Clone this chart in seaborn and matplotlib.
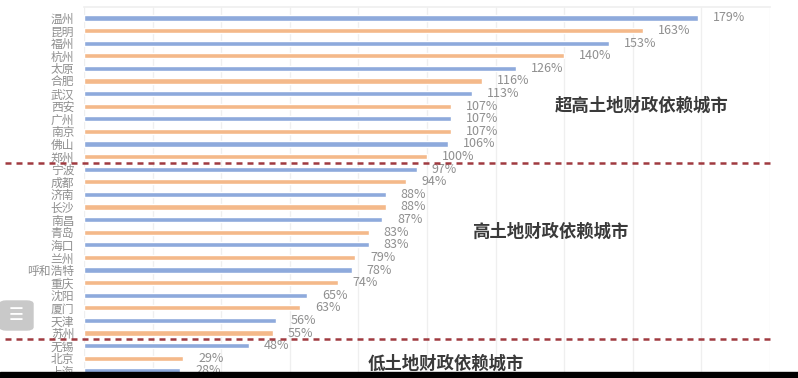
import seaborn as sns
import matplotlib.pyplot as plt
from matplotlib.patches import FancyBboxPatch, Rectangle

CITIES = ['温州', '昆明', '福州', '杭州', '太原', '合肥', '武汉', '西安', '广州', '南京',
          '佛山', '郑州', '宁波', '成都', '济南', '长沙', '南昌', '青岛', '海口', '兰州',
          '呼和浩特', '重庆', '沈阳', '厦门', '天津', '苏州', '无锡', '北京', '上海']
RATIOS = [179, 163, 153, 140, 126, 116, 113, 107, 107, 107,
          106, 100, 97, 94, 88, 88, 87, 83, 83, 79,
          78, 74, 65, 63, 56, 55, 48, 29, 28]
GROUP_NAMES = ['超高土地财政依赖城市', '高土地财政依赖城市', '低土地财政依赖城市']
GROUP_BOUNDARIES = [11.5, 25.5]

BLUE = '#8eaadc'
ORANGE = '#f4b98a'
LABEL_GREY = '#8f8f8f'
LINE_RED = '#a03a40'


def _plot_bars(ax):
    colors = [BLUE if i % 2 == 0 else ORANGE for i in range(len(CITIES))]
    sns.barplot(x=RATIOS, y=CITIES, hue=CITIES, palette=colors, legend=False,
                width=0.42, saturation=1, ax=ax)
    for i, value in enumerate(RATIOS):
        ax.annotate('{}%'.format(value), xy=(value, i), xytext=(15, 0),
                    textcoords='offset pixels', va='center', ha='left',
                    fontsize=9, color=LABEL_GREY)


def _style_axes(ax):
    ax.set_xlim(0, 200)
    ax.set_ylim(28.57, -0.87)
    ax.set_xticks(range(0, 201, 20))
    ax.set_xticklabels([])
    ax.tick_params(axis='both', length=0)
    ax.tick_params(axis='y', pad=7, labelsize=8.5, labelcolor=LABEL_GREY)
    ax.grid(axis='x', color='#efefef', linewidth=0.9)
    ax.grid(axis='y', visible=False)
    ax.set_axisbelow(True)
    for side in ['left', 'right', 'bottom']:
        ax.spines[side].set_visible(False)
    ax.spines['top'].set_color('#f0f0f0')
    ax.set_xlabel('')
    ax.set_ylabel('')


def _plot_groups(ax):
    for y in GROUP_BOUNDARIES:
        ax.axhline(y, xmin=-0.115, xmax=1.007, color=LINE_RED, linewidth=1.8,
                   linestyle=(0, (2.4, 2.0)), clip_on=False, zorder=5)
    positions = [(0.695, 106), (0.592, 232), (0.460, 364)]
    for name, (x, y) in zip(GROUP_NAMES, positions):
        ax.text(x, 1 - y / 378, name, transform=ax.figure.transFigure,
                ha='left', va='center', fontsize=12.5, color='#3a3a3a',
                fontweight='bold')


def _draw_overlays(fig):
    # screenshot artefacts: side button and black strip at the bottom
    fig.patches.append(FancyBboxPatch((0.0, 1 - 330 / 378), 33 / 798, 29 / 378,
                                      boxstyle='round,pad=0,rounding_size=0.008',
                                      transform=fig.transFigure, color='#c9c9c9',
                                      zorder=10))
    fig.text(16 / 798, 1 - 315 / 378, '☰', ha='center', va='center',
             fontsize=12, color='white', zorder=11, family='DejaVu Sans')
    fig.patches.append(Rectangle((0, 0), 1, 6 / 378, transform=fig.transFigure,
                                 color='black', zorder=12))


def main():
    sns.set_theme(style='white')
    plt.rcParams['font.family'] = ['Noto Sans CJK SC', 'DejaVu Sans']
    fig = plt.figure(figsize=(7.98, 3.78), dpi=100)
    ax = fig.add_axes([84 / 798, 0.0, 686 / 798, 371 / 378])
    _plot_bars(ax)
    _style_axes(ax)
    _plot_groups(ax)
    _draw_overlays(fig)
    fig.savefig('out.png', dpi=100)


if __name__ == '__main__':
    main()
